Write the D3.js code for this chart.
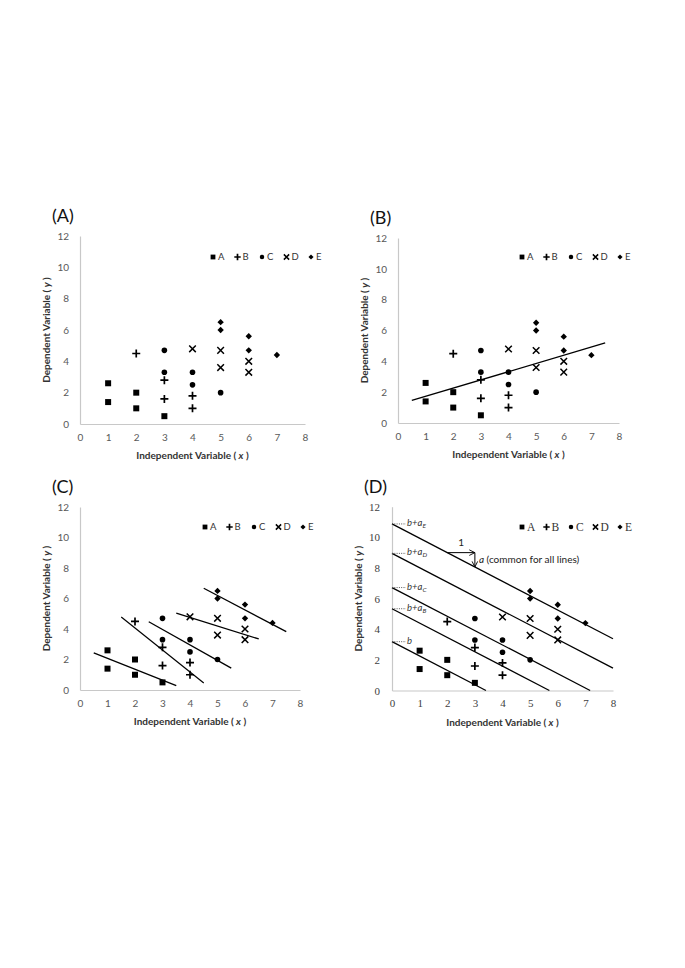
<!DOCTYPE html>
<html><head><meta charset="utf-8">
<script src="https://cdn.jsdelivr.net/npm/d3@7"></script>
<style>body{margin:0;background:#fff}svg{display:block}</style>
</head><body><svg id="c" width="685" height="968"></svg>
<script>
// ---------- data ----------
const categories = ["A", "B", "C", "D", "E"];
const xA = [1, 1, 2, 2, 3];   const yA = [2.6, 1.4, 2.0, 1.0, 0.5];
const xB = [2, 3, 3, 4, 4];   const yB = [4.5, 2.8, 1.6, 1.8, 1.0];
const xC = [3, 3, 4, 4, 5];   const yC = [4.7, 3.3, 3.3, 2.5, 2.0];
const xD = [4, 5, 5, 6, 6];   const yD = [4.8, 4.7, 3.6, 4.0, 3.3];
const xE = [5, 5, 6, 6, 7];   const yE = [6.5, 6.0, 5.6, 4.7, 4.4];
const xTickValues = [0, 1, 2, 3, 4, 5, 6, 7, 8];
const yTickValues = [0, 2, 4, 6, 8, 10, 12];
const panelLabels = ["(A)", "(B)", "(C)", "(D)"];
const interceptBase = ["b", "b+a", "b+a", "b+a", "b+a"];
const interceptSub = ["", "B", "C", "D", "E"];
const slopeRunLabel = "1";
const slopeNote = "(common for all lines)";
const xTitle = "Independent Variable";
const yTitle = "Dependent Variable";

const xs = [xA, xB, xC, xD, xE], ys = [yA, yB, yC, yD, yE];
const series = categories.map((c, i) => ({ name: c, idx: i, pts: xs[i].map((x, j) => ({ x, y: ys[i][j] })) }));
const allPts = series.flatMap(s => s.pts);

// ---------- fits ----------
function ols(pts) {
  const mx = d3.mean(pts, p => p.x), my = d3.mean(pts, p => p.y);
  const sxy = d3.sum(pts, p => (p.x - mx) * (p.y - my));
  const sxx = d3.sum(pts, p => (p.x - mx) ** 2);
  return { slope: sxy / sxx, mx, my, sxy, sxx };
}
const pooled = ols(allPts);
const groupFits = series.map(s => ols(s.pts));
const commonSlope = d3.sum(groupFits, f => f.sxy) / d3.sum(groupFits, f => f.sxx);
const intercepts = groupFits.map(f => f.my - commonSlope * f.mx);

// ---------- layout ----------
const layout = [
  { x0: 80,  x1: 305, y0: 424,   y1: 236,   legendX: 213, legendY: 257, serif: false, fit: "none" },
  { x0: 398, x1: 619, y0: 423,   y1: 238,   legendX: 522, legendY: 257, serif: false, fit: "pooled" },
  { x0: 80,  x1: 300, y0: 690,   y1: 507,   legendX: 205, legendY: 527, serif: false, fit: "groups" },
  { x0: 392, x1: 613, y0: 690.5, y1: 506.7, legendX: 522, legendY: 527, serif: true,  fit: "ancova" }
];
const SANS = "Lato, 'Open Sans', sans-serif";
const SERIF = "'Liberation Serif', 'DejaVu Serif', serif";

function symPath(i, s) {
  if (i === 0) { const h = 3 * s; return `M${-h},${-h}h${2*h}v${2*h}h${-2*h}Z`; }
  if (i === 1) { const r = 4 * s; return `M${-r},0H${r}M0,${-r}V${r}`; }
  if (i === 2) { const r = 2.8 * s; return `M${r},0A${r},${r} 0 1,1 ${-r},0A${r},${r} 0 1,1 ${r},0Z`; }
  if (i === 3) { const r = 3.3 * s; return `M${-r},${-r}L${r},${r}M${-r},${r}L${r},${-r}`; }
  const r = 3.2 * s; return `M0,${-r}L${r},0L0,${r}L${-r},0Z`;
}
function styleSym(sel, i) {
  if (i === 1 || i === 3) sel.attr("fill", "none").attr("stroke", "#000").attr("stroke-width", i === 1 ? 1.7 : 1.5);
  else sel.attr("fill", "#000").attr("stroke", "none");
}

const svg = d3.select("#c");
svg.append("rect").attr("width", 685).attr("height", 968).attr("fill", "#fff");

const defs = svg.append("defs");
defs.append("marker").attr("id", "arr").attr("viewBox", "0 0 10 10").attr("refX", 9).attr("refY", 5)
  .attr("markerWidth", 7).attr("markerHeight", 7).attr("orient", "auto").attr("markerUnits", "userSpaceOnUse")
  .append("path").attr("d", "M1,1L9,5L1,9").attr("fill", "none").attr("stroke", "#000").attr("stroke-width", 1.3);

layout.forEach((L, pi) => {
  const g = svg.append("g");
  const x = d3.scaleLinear().domain([0, 8]).range([L.x0, L.x1]);
  const y = d3.scaleLinear().domain([0, 12]).range([L.y0, L.y1]);
  const tickFont = L.serif ? SERIF : SANS;

  // axes
  const gx = g.append("g").attr("transform", `translate(0,${L.y0})`)
    .call(d3.axisBottom(x).tickValues(xTickValues).tickSize(0).tickPadding(L.serif ? 9 : 10).tickFormat(d3.format("d")));
  const gy = g.append("g").attr("transform", `translate(${L.x0},0)`)
    .call(d3.axisLeft(y).tickValues(yTickValues).tickSize(0).tickPadding(L.serif ? 12 : 11).tickFormat(d3.format("d")));
  [gx, gy].forEach(a => {
    a.select(".domain").attr("stroke", "#c8c8c8").attr("stroke-width", 1.2);
    a.selectAll("text").attr("font-family", tickFont).attr("font-size", L.serif ? 11 : 10)
      .attr("fill", L.serif ? "#404040" : "#595959");
  });

  // titles
  const xt = g.append("text").attr("x", (L.x0 + L.x1) / 2).attr("y", L.y0 + 35)
    .attr("text-anchor", "middle").attr("font-family", SANS).attr("font-weight", "bold")
    .attr("font-size", 10).attr("fill", "#333");
  xt.append("tspan").text(xTitle + " ( ");
  xt.append("tspan").attr("font-style", "italic").text("x");
  xt.append("tspan").text(" )");
  const yc = (L.y0 + L.y1) / 2, ytx = L.x0 - 30;
  const yt = g.append("text").attr("transform", `translate(${ytx},${yc}) rotate(-90)`)
    .attr("text-anchor", "middle").attr("font-family", SANS).attr("font-weight", "bold")
    .attr("font-size", 10).attr("fill", "#333");
  yt.append("tspan").text(yTitle + " ( ");
  yt.append("tspan").attr("font-style", "italic").text("y");
  yt.append("tspan").text(" )");

  // panel label
  g.append("text").attr("x", L.x0 - 28).attr("y", L.y1 - 14).attr("font-family", SANS)
    .attr("font-size", 18).attr("fill", "#111").text(panelLabels[pi]);

  // fit lines
  const line = d3.line().x(d => x(d[0])).y(d => y(d[1]));
  const lineSty = s => s.attr("fill", "none").attr("stroke", "#000").attr("stroke-width", 1.3);
  if (L.fit === "pooled") {
    const mx = pooled.mx, my = pooled.my, b = pooled.slope;
    g.append("path").datum([[0.5, my + b * (0.5 - mx)], [7.5, my + b * (7.5 - mx)]]).attr("d", line).call(lineSty);
  } else if (L.fit === "groups") {
    series.forEach((s, i) => {
      const f = groupFits[i];
      const lo = d3.min(s.pts, p => p.x) - 0.5, hi = d3.max(s.pts, p => p.x) + 0.5;
      g.append("path").datum([[lo, f.my + f.slope * (lo - f.mx)], [hi, f.my + f.slope * (hi - f.mx)]])
        .attr("d", line).call(lineSty);
    });
  } else if (L.fit === "ancova") {
    series.forEach((s, i) => {
      const b0 = intercepts[i];
      const xEnd = Math.min(8, -b0 / commonSlope);
      g.append("path").datum([[0, b0], [xEnd, b0 + commonSlope * xEnd]]).attr("d", line).call(lineSty);
      // leader + label
      g.append("line").attr("x1", x(0)).attr("x2", x(0) + 14).attr("y1", y(b0)).attr("y2", y(b0))
        .attr("stroke", "#555").attr("stroke-width", 1).attr("stroke-dasharray", "1,1.3");
      const t = g.append("text").attr("x", x(0) + 15).attr("y", y(b0) + 2)
        .attr("font-family", SANS).attr("font-style", "italic").attr("font-size", 9.5).attr("fill", "#333");
      t.append("tspan").text(interceptBase[i]);
      if (interceptSub[i]) t.append("tspan").attr("font-size", 6.5).attr("dy", 2).text(interceptSub[i]);
    });
    // slope annotation on line E
    const bE = intercepts[4];
    const yAt = v => bE + commonSlope * v;
    g.append("line").attr("x1", x(2)).attr("y1", y(yAt(2))).attr("x2", x(3)).attr("y2", y(yAt(2)))
      .attr("stroke", "#000").attr("stroke-width", 1).attr("marker-end", "url(#arr)");
    g.append("line").attr("x1", x(3)).attr("y1", y(yAt(2))).attr("x2", x(3)).attr("y2", y(yAt(3)))
      .attr("stroke", "#000").attr("stroke-width", 1).attr("marker-end", "url(#arr)");
    g.append("text").attr("x", x(2.5)).attr("y", y(yAt(2)) - 7).attr("text-anchor", "middle")
      .attr("font-family", SANS).attr("font-size", 10).attr("fill", "#222").text(slopeRunLabel);
    const at = g.append("text").attr("x", x(3) + 4).attr("y", y(yAt(2.5)) + 3)
      .attr("font-family", SANS).attr("font-size", 10).attr("fill", "#222");
    at.append("tspan").attr("font-style", "italic").text("a");
    at.append("tspan").text(" " + slopeNote);
  }

  // points
  series.forEach(s => {
    g.selectAll(null).data(s.pts).join("path")
      .attr("transform", d => `translate(${x(d.x)},${y(d.y)})`)
      .attr("d", symPath(s.idx, 1)).call(sel => styleSym(sel, s.idx));
  });

  // legend
  const lg = g.append("g").attr("transform", `translate(${L.legendX},${L.legendY})`);
  categories.forEach((c, i) => {
    const it = lg.append("g").attr("transform", `translate(${i * 24.5},0)`);
    it.append("path").attr("d", symPath(i, 0.8)).call(sel => styleSym(sel, i));
    it.append("text").attr("x", 5).attr("y", 0).attr("dy", "0.35em")
      .attr("font-family", L.serif ? SERIF : SANS).attr("font-size", L.serif ? 11.5 : 9.5)
      .attr("fill", "#333").text(c);
  });
});
</script>
</body></html>
